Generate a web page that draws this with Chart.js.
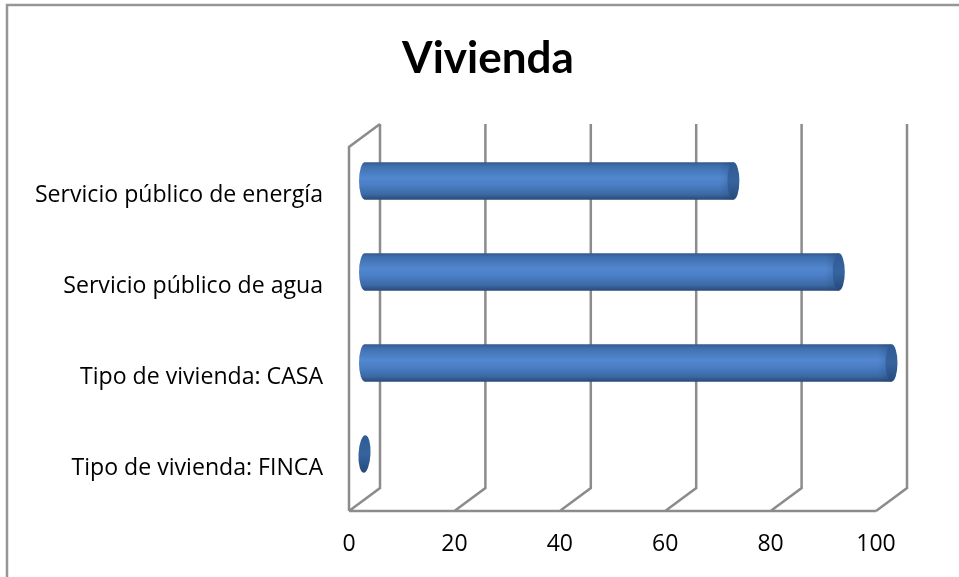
<!DOCTYPE html>
<html>
<head>
<meta charset="utf-8">
<title>Vivienda</title>
<script src="https://cdn.jsdelivr.net/npm/chart.js@4"></script>
<style>
  body { margin: 0; background: #fff; }
  #wrap { width: 959px; height: 577px; }
</style>
</head>
<body>
<div id="wrap"><canvas id="viviendaChart" width="959" height="577"></canvas></div>
<script>
// Data
const categories = ['Servicio público de energía', 'Servicio público de agua', 'Tipo de vivienda: CASA', 'Tipo de vivienda: FINCA'];
const values = [70, 90, 100, 0];
const xTicks = [0, 20, 40, 60, 80, 100];

const gridColor = '#8c8c8c';
const depthX = 31, depthY = 23;   // size of the 3D wall
const capRx = 6;
const barShare = 0.41;

function tubeGradient(ctx, y, h) {
    const g = ctx.createLinearGradient(0, y - h, 0, y + h);
    g.addColorStop(0, '#34598c');
    g.addColorStop(0.1, '#3f6fae');
    g.addColorStop(0.42, '#5288d0');
    g.addColorStop(0.6, '#4a7ec5');
    g.addColorStop(0.85, '#3d6aa6');
    g.addColorStop(1, '#284a78');
    return g;
}

// walls, floor and the 3D look of the bars
const wallsPlugin = {
    id: 'walls',
    afterLayout(chart) {
        // title sits a bit right of the canvas centre
        chart.titleBlock.left = 0;
        chart.titleBlock.right = 976;
        // category labels sit a little below their band centre
        chart.scales.y.getLabelItems().forEach(function(item) {
            item.options.translation[1] += 3;
        });
    },
    beforeDatasetsDraw(chart) {
        const ctx = chart.ctx;
        const x = chart.scales.x;
        const { top, bottom } = chart.chartArea;
        ctx.save();
        ctx.lineWidth = 2.5;

        // outer frame, only top and left show
        ctx.strokeStyle = '#969696';
        ctx.beginPath();
        ctx.moveTo(7, 577);
        ctx.lineTo(7, 5);
        ctx.lineTo(959, 5);
        ctx.stroke();
        ctx.strokeStyle = gridColor;

        const x0 = x.getPixelForValue(0);
        ctx.beginPath();
        ctx.moveTo(x0, bottom);
        ctx.lineTo(x0, top);
        ctx.lineTo(x0 + depthX, top - depthY);
        ctx.moveTo(x0, bottom);
        ctx.lineTo(x.getPixelForValue(100), bottom);
        xTicks.forEach(function(t) {
            const px = x.getPixelForValue(t);
            ctx.moveTo(px, bottom);
            ctx.lineTo(px + depthX, bottom - depthY);
            ctx.lineTo(px + depthX, top - depthY);
        });
        ctx.stroke();
        ctx.restore();

        // bars sit halfway into the depth
        ctx.save();
        ctx.translate(depthX / 2, -depthY / 2);
    },
    afterDatasetsDraw(chart) {
        const ctx = chart.ctx;
        const bars = chart.getDatasetMeta(0).data;
        bars.forEach(function(bar) {
            const h = bar.height / 2;
            if (bar.width > 1) {
                // rounded start of the tube
                ctx.beginPath();
                ctx.ellipse(bar.base + 0.5, bar.y, capRx, h, 0, Math.PI / 2, Math.PI * 1.5);
                ctx.fillStyle = tubeGradient(ctx, bar.y, h);
                ctx.fill();
                // soft shade leading into the end cap
                const shade = ctx.createLinearGradient(bar.x - 14, 0, bar.x, 0);
                shade.addColorStop(0, 'rgba(30,60,110,0)');
                shade.addColorStop(1, 'rgba(30,60,110,0.3)');
                ctx.fillStyle = shade;
                ctx.fillRect(bar.x - 14, bar.y - h, 14, h * 2);
            }
            // end cap
            ctx.beginPath();
            ctx.ellipse(bar.x, bar.y, capRx, h, bar.width > 1 ? 0 : 0.05, 0, Math.PI * 2);
            const g = ctx.createLinearGradient(0, bar.y - h, 0, bar.y + h);
            g.addColorStop(0, '#2f5a94');
            g.addColorStop(0.5, '#36649f');
            g.addColorStop(1, '#254a7c');
            ctx.fillStyle = g;
            ctx.fill();
        });
        ctx.restore();
    }
};

new Chart(document.getElementById('viviendaChart'), {
    type: 'bar',
    data: {
        labels: categories,
        datasets: [{
            label: 'Vivienda',
            data: values,
            barPercentage: barShare,
            categoryPercentage: 1,
            borderSkipped: false,
            backgroundColor: function(c) {
                const chart = c.chart;
                if (!chart.chartArea || c.dataIndex === undefined) return '#4a7ec5';
                const y = chart.scales.y.getPixelForValue(c.dataIndex);
                const h = chart.chartArea.height / categories.length * barShare / 2;
                return tubeGradient(chart.ctx, y, h);
            }
        }]
    },
    options: {
        indexAxis: 'y',
        responsive: false,
        animation: false,
        layout: { padding: { top: 32, left: 0, right: 83, bottom: 0 } },
        plugins: {
            legend: { display: false },
            tooltip: { enabled: false },
            title: {
                display: true,
                text: 'Vivienda',
                color: '#000',
                font: { family: 'Lato', size: 44, weight: 'bold', lineHeight: 1.2 },
                padding: { top: 0, bottom: 62.2 }
            }
        },
        scales: {
            x: {
                min: 0,
                max: 100,
                afterBuildTicks(axis) { axis.ticks = xTicks.map(v => ({ value: v })); },
                afterFit(axis) { axis.height = 66; },
                grid: { display: false },
                border: { display: false },
                ticks: { color: '#000', font: { family: 'Open Sans', size: 23 }, padding: 12, maxRotation: 0 }
            },
            y: {
                afterFit(axis) { axis.width = 349; },
                grid: { display: false },
                border: { display: false },
                ticks: { color: '#000', font: { family: 'Open Sans', size: 23.1 }, padding: 18 }
            }
        }
    },
    plugins: [wallsPlugin]
});
</script>
</body>
</html>
